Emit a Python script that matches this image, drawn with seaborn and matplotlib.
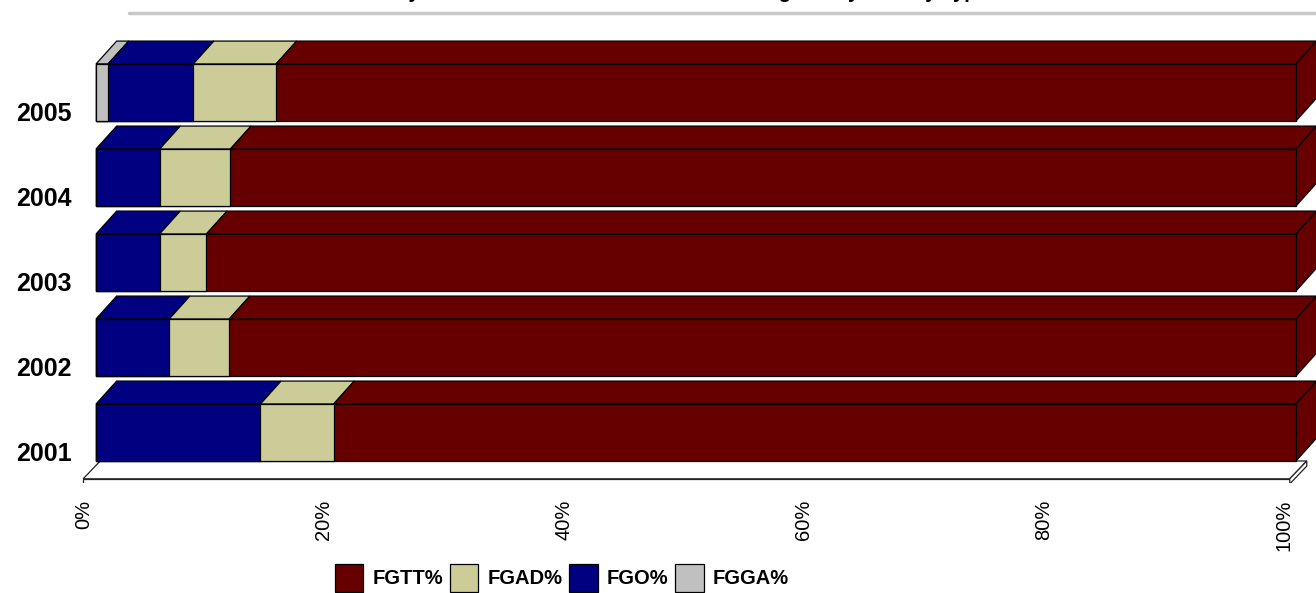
import pandas as pd
import seaborn as sns
import matplotlib.pyplot as plt
import matplotlib.patches as mpatches
import matplotlib.transforms as mtransforms
from matplotlib.lines import Line2D

# values (percent of total per year)
years = ["2001", "2002", "2003", "2004", "2005"]
fgtt = [80.2, 88.9, 90.8, 88.8, 85.0]
fgad = [6.1, 5.0, 3.9, 5.9, 6.9]
fgo = [13.7, 6.1, 5.3, 5.3, 7.1]
fgga = [0.0, 0.0, 0.0, 0.0, 1.0]

series = ["FGGA%", "FGO%", "FGAD%", "FGTT%"]          # stacking order, left to right
colors = {"FGTT%": "#660000", "FGAD%": "#CCCC99", "FGO%": "#000080", "FGGA%": "#C0C0C0"}
legend_order = ["FGTT%", "FGAD%", "FGO%", "FGGA%"]
xticks = [0, 20, 40, 60, 80, 100]
title = "Summary of Total Annual Federal Grant Funding Mix by Activity Type"

# 3d look
BAR_H = 0.67
DX, DY = 1.72, 0.27          # bar depth in data units
FDX, FDY, FTH = 1.42, 0.21, 0.06   # floor depth / thickness


def build_frame():
    df = pd.DataFrame({"year": years, "FGTT%": fgtt, "FGAD%": fgad,
                       "FGO%": fgo, "FGGA%": fgga})
    right = df[series].cumsum(axis=1)
    for s in series:
        df["r_" + s] = right[s]
        df["l_" + s] = right[s] - df[s]
    return df


def draw_chart(df, output_file="out.png"):
    sns.set_theme(style="white", rc={"text.color": "black",
                                     "xtick.color": "black",
                                     "ytick.color": "black"})
    plt.rcParams["font.family"] = ["Liberation Sans", "DejaVu Sans"]

    fig = plt.figure(figsize=(13.16, 5.93), dpi=100)
    ax = fig.add_axes([0, 1 - 483 / 593, 1, 483 / 593])
    order = years[::-1]

    # front faces: cumulative bars drawn from the widest down
    for s in series[::-1]:
        sns.barplot(data=df, x="r_" + s, y="year", order=order, orient="h",
                    color=colors[s], saturation=1, width=BAR_H,
                    edgecolor="black", linewidth=0.9, ax=ax, zorder=3)

    # top faces and right end faces
    for pos, yr in enumerate(order):
        row = df[df["year"] == yr].iloc[0]
        top = pos - BAR_H / 2
        bot = pos + BAR_H / 2
        for s in series:
            if row[s] <= 0:
                continue
            l, r = row["l_" + s], row["r_" + s]
            ax.add_patch(mpatches.Polygon(
                [(l, top), (r, top), (r + DX, top - DY), (l + DX, top - DY)],
                closed=True, facecolor=colors[s], edgecolor="black",
                linewidth=0.9, zorder=2))
        end = row["r_FGTT%"]
        ax.add_patch(mpatches.Polygon(
            [(end, top), (end + DX, top - DY), (end + DX, bot - DY), (end, bot)],
            closed=True, facecolor=colors["FGTT%"], edgecolor="black",
            linewidth=0.9, zorder=2))

    # floor under the lowest bar
    fb = len(order) - 1 + BAR_H / 2
    x0, x1 = 0.35, 100.9
    floor_top = [(x0, fb), (x1, fb), (x1 - FDX, fb + FDY), (x0 - FDX, fb + FDY)]
    floor_front = [(x0 - FDX, fb + FDY), (x1 - FDX, fb + FDY),
                   (x1 - FDX, fb + FDY + FTH), (x0 - FDX, fb + FDY + FTH)]
    floor_side = [(x1, fb), (x1, fb + FTH), (x1 - FDX, fb + FDY + FTH),
                  (x1 - FDX, fb + FDY)]
    for poly in (floor_top, floor_front, floor_side):
        ax.add_patch(mpatches.Polygon(poly, closed=True, facecolor="white",
                                      edgecolor="#222222", linewidth=0.9,
                                      zorder=1))

    ax.set_xlim(-8, 101.667)
    ax.set_ylim((483 - 92.5) / 85, -92.5 / 85)
    ax.set_xlabel("")
    ax.set_ylabel("")
    for sp in ax.spines.values():
        sp.set_visible(False)

    ax.set_xticks(xticks)
    ax.set_xticklabels([f"{t}%" for t in xticks], rotation=90, fontsize=14.5)
    ax.tick_params(axis="x", length=0, pad=12)
    shift_x = mtransforms.ScaledTranslation(-12 / 100, 0, fig.dpi_scale_trans)
    for lab in ax.get_xticklabels():
        lab.set_transform(lab.get_transform() + shift_x)

    ax.spines["left"].set_position(("data", -2.0))
    ax.tick_params(axis="y", length=0, pad=0, labelsize=18)
    shift_y = mtransforms.ScaledTranslation(0, -19 / 100, fig.dpi_scale_trans)
    for lab in ax.get_yticklabels():
        lab.set_fontweight("bold")
        lab.set_transform(lab.get_transform() + shift_y)
    ax.grid(False)

    # title sits above the top edge, as in the source image; rule under it
    fig.text(0.5, 1 + 1.5 / 593, title, ha="center", va="baseline",
             fontsize=14.5, fontweight="bold")
    fig.add_artist(Line2D([129 / 1316, 1], [1 - 13 / 593] * 2,
                          transform=fig.transFigure, color="#C8C8C8", lw=2.5))

    handles = [mpatches.Patch(facecolor=colors[s], edgecolor="black",
                              linewidth=0.9) for s in legend_order]
    fig.legend(handles, legend_order, loc="lower center",
               bbox_to_anchor=(562 / 1316, 0.0), ncol=4, frameon=False,
               prop={"weight": "bold", "size": 14.5},
               handlelength=1.4, handleheight=1.77, handletextpad=0.45,
               columnspacing=0.35, borderpad=0.05, borderaxespad=0)

    fig.savefig(output_file, dpi=100)


def main():
    df = build_frame()
    draw_chart(df)


if __name__ == "__main__":
    main()
